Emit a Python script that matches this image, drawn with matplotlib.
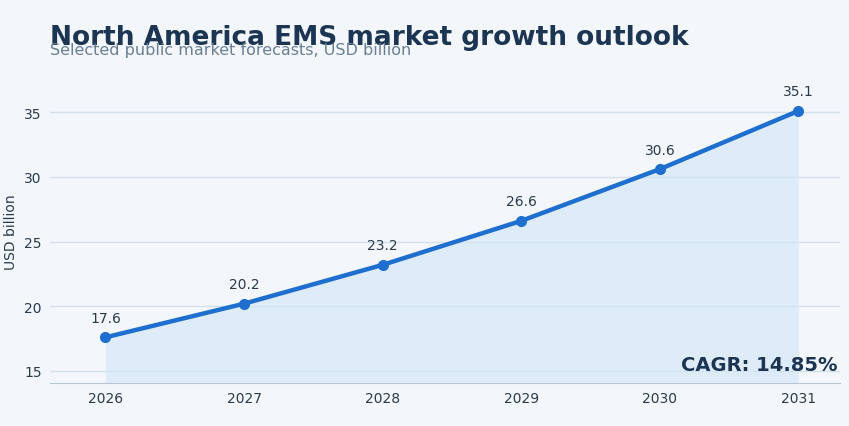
import matplotlib
matplotlib.use("Agg")
import matplotlib.pyplot as plt

years = [2026, 2027, 2028, 2029, 2030, 2031]
values = [17.6, 20.2, 23.2, 26.6, 30.6, 35.1]
yticks = [15, 20, 25, 30, 35]
cagr_label = "CAGR: 14.85%"

bg = "#f3f7fc"
line_color = "#1f6fd1"
navy = "#1b3552"

fig = plt.figure(figsize=(8.49, 4.27), dpi=100, facecolor=bg)
ax = fig.add_axes([0.0589, 0.1007, 0.9305, 0.710], facecolor=bg)

ax.fill_between(years, values, 14.07, color="#d6e7f7", alpha=0.7, lw=0)
ax.plot(years, values, color=line_color, lw=3.2, marker="o", ms=7, zorder=3)
for x, y in zip(years, values):
    ax.annotate(f"{y}", (x, y), xytext=(0, 9), textcoords="offset points",
                ha="center", va="bottom", fontsize=10, color="#2a3a4c")

ax.set_xlim(2025.6, 2031.3)
ax.set_ylim(14.07, 37.5)
ax.set_xticks(years)
ax.set_yticks(yticks)
ax.grid(axis="y", color="#d3e0ec", lw=1)
ax.set_axisbelow(True)
for s in ["top", "right", "left"]:
    ax.spines[s].set_visible(False)
ax.spines["bottom"].set_color("#b8c6d4")
ax.tick_params(axis="both", length=0, labelsize=10, colors="#2a3a4c", pad=6)
ax.set_ylabel("USD billion", fontsize=10, color="#2a3a4c", labelpad=4)

fig.text(0.059, 0.895, "North America EMS market growth outlook",
         fontsize=19, fontweight="bold", color=navy)
fig.text(0.059, 0.872, "Selected public market forecasts, USD billion",
         fontsize=11.5, color="#6b7f95")
ax.text(0.997, 0.03, cagr_label, transform=ax.transAxes, ha="right", va="bottom",
        fontsize=14, fontweight="bold", color=navy)

fig.savefig("out.png", dpi=100, facecolor=bg)
